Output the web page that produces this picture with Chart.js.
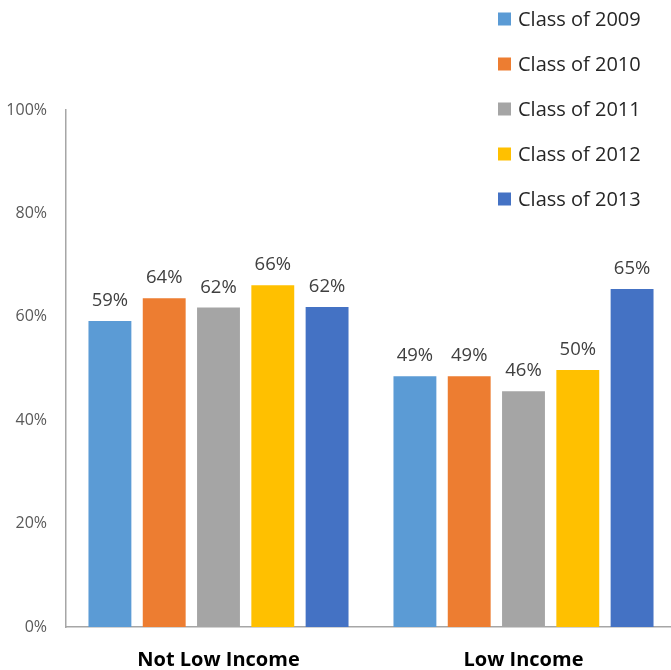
<!DOCTYPE html>
<html>
<head>
<meta charset="utf-8">
<script src="https://cdn.jsdelivr.net/npm/chart.js@4"></script>
<style>
  body { margin: 0; background: #fff; overflow: hidden; }
  canvas { display: block; }
</style>
</head>
<body>
<!-- plot runs slightly past the right edge of the window, as in the source -->
<canvas id="chart" width="676" height="670"></canvas>
<script>
// ---- Data ----
const categories = ["Not Low Income", "Low Income"];
const seriesNames = ["Class of 2009", "Class of 2010", "Class of 2011", "Class of 2012", "Class of 2013"];
const class2009 = [59.2, 48.5];
const class2010 = [63.6, 48.5];
const class2011 = [61.8, 45.6];
const class2012 = [66.1, 49.7];
const class2013 = [61.9, 65.4];
const yTicks = [0, 20, 40, 60, 80, 100];

const colors = ["#5B9BD5", "#ED7D31", "#A5A5A5", "#FFC000", "#4472C4"];
const FONT = "'Open Sans', 'Liberation Sans', sans-serif";

const allSeries = [class2009, class2010, class2011, class2012, class2013];

// value labels above each bar
const barLabels = {
  id: "barLabels",
  afterDatasetsDraw(chart) {
    const ctx = chart.ctx;
    ctx.save();
    ctx.font = "18.5px " + FONT;
    ctx.fillStyle = "#404040";
    ctx.textAlign = "center";
    ctx.textBaseline = "bottom";
    chart.data.datasets.forEach((ds, i) => {
      chart.getDatasetMeta(i).data.forEach((bar, j) => {
        ctx.fillText(Math.round(ds.data[j]) + "%", bar.x, bar.y - 11);
      });
    });
    ctx.restore();
  }
};

// legend stacked in the top right corner, over the plot
const cornerLegend = {
  id: "cornerLegend",
  afterDraw(chart) {
    const ctx = chart.ctx;
    ctx.save();
    ctx.font = "20px " + FONT;
    ctx.textBaseline = "middle";
    chart.data.datasets.forEach((ds, i) => {
      const y = 19 + i * 45;
      ctx.fillStyle = ds.backgroundColor;
      ctx.fillRect(498, y - 6.5, 13, 13);
      ctx.fillStyle = "#262626";
      ctx.fillText(ds.label, 518, y + 1);
    });
    ctx.restore();
  }
};

new Chart(document.getElementById("chart").getContext("2d"), {
  type: "bar",
  data: {
    labels: categories,
    datasets: seriesNames.map((name, i) => ({
      label: name,
      data: allSeries[i],
      backgroundColor: colors[i],
      borderWidth: 0,
      categoryPercentage: 0.89,
      barPercentage: 0.79
    }))
  },
  options: {
    responsive: false,
    animation: false,
    layout: { padding: { top: 110, right: 0, left: 0, bottom: 0 } },
    plugins: {
      legend: { display: false },
      tooltip: { enabled: false }
    },
    scales: {
      x: {
        grid: { display: false, drawTicks: false },
        border: { display: true, color: "#A6A6A6", width: 1.5 },
        ticks: {
          color: "#000",
          padding: 21,
          font: { family: FONT, size: 20, weight: "bold" }
        },
        afterFit(scale) { scale.height = 43; }
      },
      y: {
        min: 0,
        max: 100,
        afterBuildTicks(scale) { scale.ticks = yTicks.map(v => ({ value: v })); },
        grid: { display: false, drawTicks: false },
        border: { display: true, color: "#A6A6A6", width: 1.5 },
        ticks: {
          color: "#595959",
          padding: 19,
          font: { family: FONT, size: 16 },
          callback: v => v + "%"
        },
        afterFit(scale) { scale.width = 66; }
      }
    }
  },
  plugins: [barLabels, cornerLegend]
});
</script>
</body>
</html>
